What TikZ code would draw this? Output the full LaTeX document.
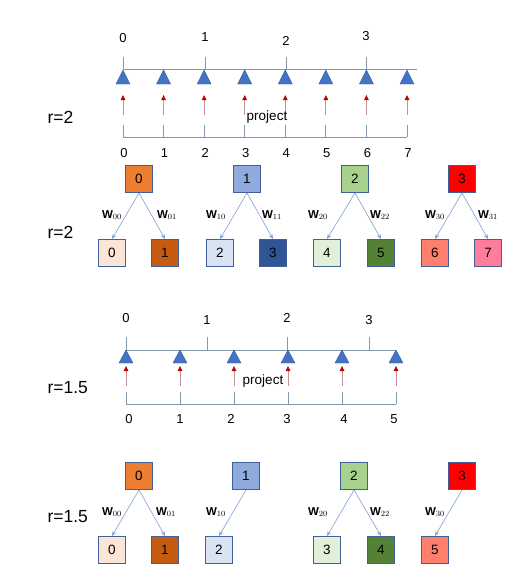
\documentclass[tikz,border=0pt]{standalone}
\usepackage{amsmath}
\usepackage{fontspec}
\setmainfont{Liberation Sans}
\usetikzlibrary{arrows.meta}

\definecolor{axisline}{HTML}{8497B0}
\definecolor{triblue}{HTML}{4472C4}
\definecolor{boxline}{HTML}{41609A}
\definecolor{wline}{HTML}{7F9FD6}
\definecolor{projhead}{HTML}{C00000}
\definecolor{projshaft}{HTML}{C49494}
% parent colours
\definecolor{pa0}{HTML}{ED7D31}
\definecolor{pa1}{HTML}{8FAADC}
\definecolor{pa2}{HTML}{A9D18E}
\definecolor{pa3}{HTML}{FF0000}
% child colours
\definecolor{ch0}{HTML}{FBE5D6}
\definecolor{ch1}{HTML}{C55A11}
\definecolor{ch2}{HTML}{DAE3F3}
\definecolor{ch3}{HTML}{2F5597}
\definecolor{ch4}{HTML}{E2F0D9}
\definecolor{ch5}{HTML}{548235}
\definecolor{ch6}{HTML}{FF7F6E}
\definecolor{ch7}{HTML}{FF7C9C}

\tikzset{
  axis/.style={draw=axisline, line width=0.9pt},
  tri/.style={fill=triblue, draw=triblue!80!black, line width=0.4pt},
  proj/.style={draw=projshaft, line width=0.9pt, -{Triangle[length=5pt, width=4.5pt, color=projhead]}},
  num/.style={font=\fontsize{13}{15}\selectfont},
  rlabel/.style={font=\fontsize{17.5}{21}\selectfont, anchor=west},
  cell/.style={draw=boxline, line width=0.9pt, minimum size=27pt, inner sep=0pt, font=\fontsize{13.5}{15}\selectfont},
  wedge/.style={draw=wline, line width=0.6pt, -{Stealth[length=5pt, width=4pt]}},
  wlab/.style={font=\fontsize{11.5}{13}\selectfont}
}

\begin{document}
\begin{tikzpicture}[x=1pt, y=-1pt]
\useasboundingbox (0,0) rectangle (532,584);

% ---------- r=2 : grid ----------
\node[rlabel] (rA) at (44,117) {r=2};
\draw[axis] (123,69) -- (417,69);
\foreach \i/\x/\y in {0/123/38, 1/205/37, 2/286/41, 3/366/36} {
    \draw[axis] (\x,57) -- (\x,69);
    \node[num] (topA\i) at (\x,\y) {\i};
}
\foreach \i in {0,...,7} {
    \pgfmathsetmacro{\x}{123+\i*40.57}
    \fill[tri] (\x,70) -- ++(7,14) -- ++(-14,0) -- cycle;
    \coordinate (srcA\i) at (\x,115);
    \coordinate (dstA\i) at (\x,95);
    \draw[proj] (srcA\i) -- (dstA\i);
    \draw[axis] (\x,125) -- (\x,137);
    \node[num] (botA\i) at (\x+1,153) {\i};
}
\draw[axis] (123,137) -- (407,137);
\node[num, font=\fontsize{13.5}{15}\selectfont] (projA) at (267,117) {project};

% ---------- r=2 : boxes ----------
\node[rlabel] (rB) at (44,232) {r=2};
\foreach \i/\x in {0/139, 1/247, 2/355, 3/462}
    \node[cell, fill=pa\i] (pB\i) at (\x,179) {\i};
\foreach \i/\x in {0/112, 1/165, 2/220, 3/273, 4/327, 5/381, 6/435, 7/488}
    \node[cell, fill=ch\i] (cB\i) at (\x,253) {\i};
\foreach \p/\c/\lx/\lab in {0/0/112/00, 0/1/167/01, 1/2/216/10, 1/3/272/11,
                            2/4/318/20, 2/5/380/22, 3/6/435/30, 3/7/488/31} {
    \draw[wedge] (pB\p.south) -- (cB\c.north);
    \node[wlab] (wB\c) at (\lx,215) {$\mathbf{W}_{\lab}$};
}

% ---------- r=1.5 : grid ----------
\node[rlabel] (rC) at (44,388) {r=1.5};
\draw[axis] (126,350) -- (396,350);
\foreach \i/\x/\y in {0/126/318, 1/207/320, 2/287/318, 3/369/320} {
    \draw[axis] (\x,337) -- (\x,350);
    \node[num] (topC\i) at (\x,\y) {\i};
}
\foreach \i/\lx in {0/129, 1/180, 2/231, 3/287, 4/344, 5/394} {
    \pgfmathsetmacro{\x}{126+\i*54}
    \fill[tri] (\x,350) -- ++(7,13) -- ++(-14,0) -- cycle;
    \coordinate (srcC\i) at (\x,386);
    \coordinate (dstC\i) at (\x,366);
    \draw[proj] (srcC\i) -- (dstC\i);
    \draw[axis] (\x,392) -- (\x,404);
    \node[num] (botC\i) at (\lx,419) {\i};
}
\draw[axis] (126,404) -- (396,404);
\node[num, font=\fontsize{13.5}{15}\selectfont] (projC) at (263,381) {project};

% ---------- r=1.5 : boxes ----------
\node[rlabel] (rD) at (44,517) {r=1.5};
\foreach \i/\x in {0/139, 1/246, 2/354, 3/462}
    \node[cell, fill=pa\i] (pD\i) at (\x,476) {\i};
\foreach \i/\x/\f in {0/112/0, 1/165/1, 2/219/2, 3/327/4, 4/381/5, 5/435/6}
    \node[cell, fill=ch\f] (cD\i) at (\x,550) {\i};
\foreach \p/\c/\lx/\lab in {0/0/112/00, 0/1/166/01, 1/2/216/10,
                            2/3/318/20, 2/4/380/22, 3/5/435/30} {
    \draw[wedge] (pD\p.south) -- (cD\c.north);
    \node[wlab] (wD\c) at (\lx,512) {$\mathbf{W}_{\lab}$};
}
\end{tikzpicture}
\end{document}
